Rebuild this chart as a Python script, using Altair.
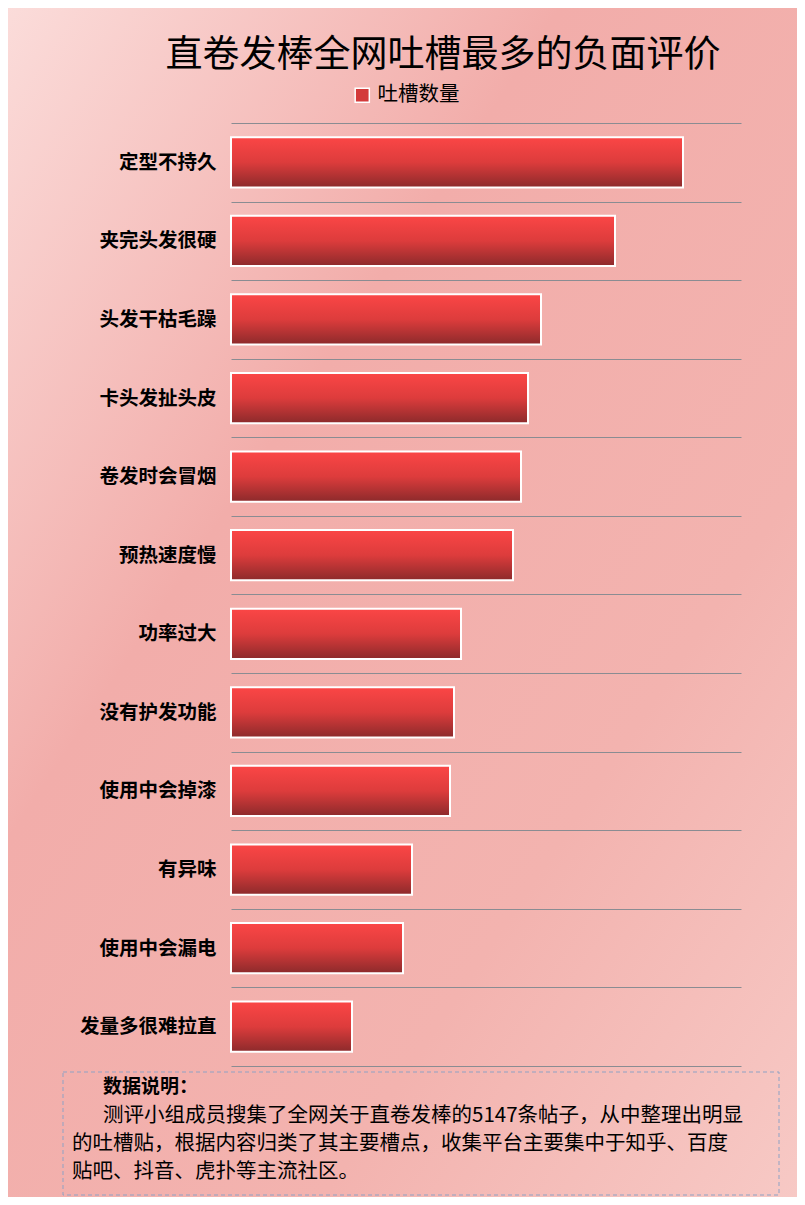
import altair as alt
import pandas as pd

categories = ["定型不持久", "夹完头发很硬", "头发干枯毛躁", "卡头发扯头皮", "卷发时会冒烟",
              "预热速度慢", "功率过大", "没有护发功能", "使用中会掉漆", "有异味",
              "使用中会漏电", "发量多很难拉直"]
values = [452, 384, 310, 297, 290, 282, 230, 223, 219, 181, 172, 121]
series_name = "吐槽数量"
title_text = "直卷发棒全网吐槽最多的负面评价"
note_title = "数据说明："
note_lines = [
    "测评小组成员搜集了全网关于直卷发棒的5147条帖子，从中整理出明显",
    "的吐槽贴，根据内容归类了其主要槽点，收集平台主要集中于知乎、百度",
    "贴吧、抖音、虎扑等主流社区。",
]

df = pd.DataFrame({"cat": categories, "val": values, "series": series_name})

FONT = "Noto Sans CJK SC"
W, H = 510, 943
PL, PT, PR, PB = 223, 115, 56, 131

y_enc = alt.Y("cat:N", sort=categories,
              scale=alt.Scale(paddingInner=0, paddingOuter=0),
              axis=alt.Axis(title=None, domain=False, ticks=False, labelPadding=15,
                            labelFontSize=19.5, labelFontWeight="bold", labelFont=FONT,
                            labelColor="#000000", grid=True, gridColor="#8a8c92",
                            gridWidth=1, tickBand="extent", labelLimit=220, zindex=1))
x_enc = alt.X("val:Q", scale=alt.Scale(domain=[0, 510], nice=False), axis=None)

bg = alt.Chart(pd.DataFrame({"a": [0]})).mark_rect(
    fill=alt.Gradient(gradient="linear", x1=0, y1=0, x2=1, y2=1,
                      stops=[alt.GradientStop(color="#fbdcda", offset=0),
                             alt.GradientStop(color="#f2adaa", offset=0.35),
                             alt.GradientStop(color="#f3b3af", offset=0.7),
                             alt.GradientStop(color="#f7c9c5", offset=1)]),
).encode(x=alt.value(-PL), x2=alt.value(W + PR), y=alt.value(-PT), y2=alt.value(H + PB))

title_layer = alt.Chart(pd.DataFrame({"a": [0]})).mark_text(
    text=title_text, align="center", baseline="middle", font=FONT, fontSize=37,
    fontWeight="normal", color="#000000"
).encode(x=alt.value(212), y=alt.value(-67))

bars = alt.Chart(df).mark_bar(
    fill=alt.Gradient(gradient="linear", x1=0, y1=0, x2=0, y2=1,
                      stops=[alt.GradientStop(color="#fb4646", offset=0),
                             alt.GradientStop(color="#dd3c3c", offset=0.5),
                             alt.GradientStop(color="#8c2a2b", offset=1)]),
    stroke="white", strokeWidth=2, cornerRadius=0,
    height=alt.RelativeBandSize(band=0.64),
).encode(y=y_enc, x=x_enc)

legend_layer = alt.Chart(df).mark_square(size=0, opacity=0).encode(
    y=alt.Y("cat:N", sort=categories),
    x=alt.X("val:Q"),
    color=alt.Color("series:N", scale=alt.Scale(range=["#d33a3a"]),
                    legend=alt.Legend(title=None, orient="none", legendX=121, legendY=-38,
                                      symbolType="square", symbolSize=200, symbolOpacity=1,
                                      symbolStrokeColor="white", symbolStrokeWidth=1.5,
                                      labelFontSize=20.5, labelFont=FONT, labelColor="#000000",
                                      labelOffset=5, zindex=1)),
)

box = alt.Chart(pd.DataFrame({"a": [0]})).mark_rect(
    fill="transparent", stroke="#8fa2c4", strokeWidth=1, strokeDash=[4, 3]
).encode(x=alt.value(-168), x2=alt.value(548), y=alt.value(949), y2=alt.value(1072))

note_head = alt.Chart(pd.DataFrame({"a": [0]})).mark_text(
    text=note_title, align="left", baseline="middle", font=FONT, fontSize=19,
    fontWeight="bold", color="#000000"
).encode(x=alt.value(-128), y=alt.value(964))

note_layers = []
for i, (line, xoff) in enumerate(zip(note_lines, [-128, -159, -159])):
    note_layers.append(
        alt.Chart(pd.DataFrame({"a": [0]})).mark_text(
            text=line, align="left", baseline="middle", font=FONT, fontSize=20.5,
            color="#000000"
        ).encode(x=alt.value(xoff), y=alt.value(993 + 28 * i))
    )

chart = alt.layer(bg, title_layer, bars, legend_layer, box, note_head, *note_layers).properties(
    width=W, height=H,
    autosize=alt.AutoSizeParams(type="none"),
    padding={"left": PL, "top": PT, "right": PR, "bottom": PB},
    background="#f3b5b2",
).configure_view(stroke=None)

chart.save("out.html", embed_options={"renderer": "svg", "actions": False})
